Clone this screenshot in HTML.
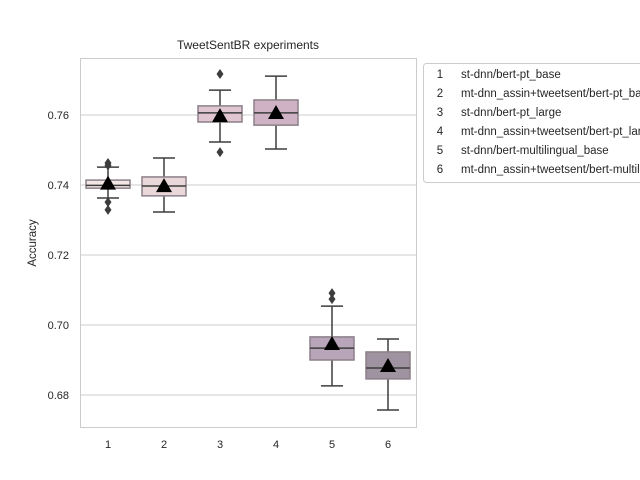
<!DOCTYPE html>
<html><head><meta charset="utf-8"><style>
html,body{margin:0;padding:0;background:#fff;width:640px;height:480px;overflow:hidden}
svg{display:block;font-family:"Liberation Sans","DejaVu Sans",sans-serif}
</style></head><body>
<svg id="chart" width="640" height="480" viewBox="0 0 640 480">
<text x="248" y="49" text-anchor="middle" font-size="12" fill="#262626">TweetSentBR experiments</text>
<text transform="translate(36,243) rotate(-90)" text-anchor="middle" font-size="11.5" fill="#262626">Accuracy</text>
<g id="grid"></g><g id="boxes"></g>
<rect x="80.5" y="58.5" width="336" height="369" fill="none" stroke="#cccccc"/>
<g id="legend">
<rect x="423.5" y="63.5" width="240" height="119" rx="3" fill="#fff" stroke="#cccccc"/>
</g>
</svg>
<script>
const categories=["1","2","3","4","5","6"];
const legendLabels=["st-dnn/bert-pt_base","mt-dnn_assin+tweetsent/bert-pt_base","st-dnn/bert-pt_large","mt-dnn_assin+tweetsent/bert-pt_large","st-dnn/bert-multilingual_base","mt-dnn_assin+tweetsent/bert-multilingual_base"];
const q1=[0.7391,0.7369,0.7580,0.7571,0.6900,0.6846];
const medians=[0.7399,0.7397,0.7606,0.7606,0.6934,0.6877];
const q3=[0.7414,0.7423,0.7626,0.7643,0.6966,0.6923];
const whiskLow=[0.7363,0.7323,0.7523,0.7503,0.6826,0.6757];
const whiskHigh=[0.7451,0.7477,0.7671,0.7711,0.7054,0.6960];
const means=[0.7401,0.7394,0.7594,0.7603,0.6943,0.6880];
const fliers=[[0.7463,0.7456,0.7351,0.7329],[],[0.7717,0.7494],[],[0.7091,0.7074],[]];
const yTicks=[0.68,0.70,0.72,0.74,0.76];
const colors=["#f1e6e3","#ead7da","#dfc6d0","#cfb3c5","#b9a5b9","#9f93a1"];
const NS="http://www.w3.org/2000/svg";
const svg=document.getElementById('chart');
function y(v){return 115-(v-0.76)*3500;}
function x(i){return 108+i*56;}
function mk(p,tag,a){const e=document.createElementNS(NS,tag);for(const k in a)e.setAttribute(k,a[k]);p.appendChild(e);return e;}
const grid=document.getElementById('grid');
yTicks.forEach((t,i)=>{
 const l=mk(grid,'line',{x1:81,x2:416,y1:y(t),y2:y(t),stroke:'#cccccc'});
 
 
 const tx=mk(grid,'text',{x:69,y:y(t)+4,'text-anchor':'end','font-size':'11',fill:'#262626'});
 tx.textContent=t.toFixed(2);
 
 
});
const bg=document.getElementById('boxes');
categories.forEach((c,i)=>{
 const cx=x(i),hw=22;
 const g=mk(bg,'g',{});
 
 
 mk(g,'line',{x1:cx,x2:cx,y1:y(whiskHigh[i]),y2:y(q3[i]),stroke:'#3d3d3d','stroke-width':1.5});
 mk(g,'line',{x1:cx,x2:cx,y1:y(q1[i]),y2:y(whiskLow[i]),stroke:'#3d3d3d','stroke-width':1.5});
 mk(g,'line',{x1:cx-11,x2:cx+11,y1:y(whiskHigh[i]),y2:y(whiskHigh[i]),stroke:'#3d3d3d','stroke-width':1.5});
 mk(g,'line',{x1:cx-11,x2:cx+11,y1:y(whiskLow[i]),y2:y(whiskLow[i]),stroke:'#3d3d3d','stroke-width':1.5});
 mk(g,'rect',{x:cx-hw,y:y(q3[i]),width:2*hw,height:y(q1[i])-y(q3[i]),fill:colors[i],stroke:'#8c8088','stroke-width':1.5});
 mk(g,'line',{x1:cx-hw,x2:cx+hw,y1:y(medians[i]),y2:y(medians[i]),stroke:'#3d3d3d','stroke-width':1.5});
 fliers[i].forEach(f=>{const fy=y(f);mk(g,'path',{d:`M${cx} ${fy-5}L${cx+3.5} ${fy}L${cx} ${fy+5}L${cx-3.5} ${fy}Z`,fill:'#3d3d3d'});});
 const my=y(means[i]);
 mk(g,'path',{d:`M${cx} ${my-9}L${cx+8} ${my+5}L${cx-8} ${my+5}Z`,fill:'#000'});
 const tx=mk(bg,'text',{x:cx,y:448,'text-anchor':'middle','font-size':'11',fill:'#262626'});
 tx.textContent=c;
 
 
});
const lg=document.getElementById('legend');
categories.forEach((c,i)=>{
 const yy=78+i*19;
 const n=mk(lg,'text',{x:440,y:yy,'text-anchor':'middle','font-size':'11.5',fill:'#262626'});
 n.textContent=c;
 
 
 const t=mk(lg,'text',{x:461,y:yy,'font-size':'11.5',fill:'#262626'});
 t.textContent=legendLabels[i];
 
 
});
</script>
</body></html>
